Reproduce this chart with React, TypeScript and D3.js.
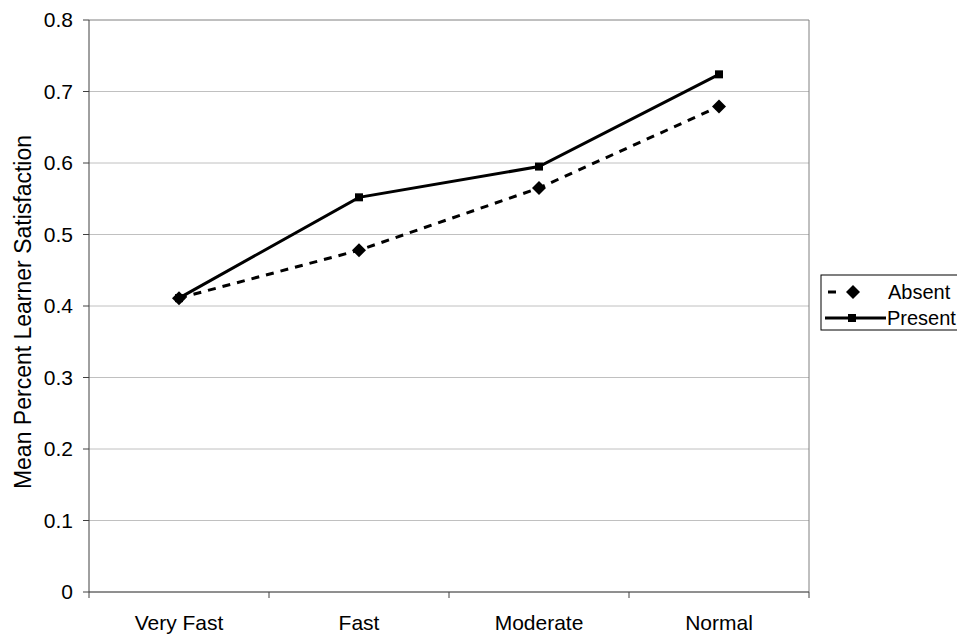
import React from "react";
import * as d3 from "d3";

const categories = ["Very Fast", "Fast", "Moderate", "Normal"];
const absentValues = [0.411, 0.478, 0.565, 0.679];
const presentValues = [0.411, 0.552, 0.595, 0.724];
const yTicks = [0, 0.1, 0.2, 0.3, 0.4, 0.5, 0.6, 0.7, 0.8];

export default function App() {
  const W = 957, H = 635;
  const left = 89, right = 809, top = 20, bottom = 592;
  const x = d3.scaleBand().domain(categories).range([left, right]);
  const y = d3.scaleLinear().domain([0, 0.8]).range([bottom, top]);
  const cx = (c: string) => (x(c) as number) + x.bandwidth() / 2;
  const line = d3.line<number>().x((_, i) => cx(categories[i])).y((v) => y(v));
  const font = "Liberation Sans, Arial, sans-serif";
  const diamond = (px: number, py: number, s: number) =>
    `M${px},${py - s}L${px + s},${py}L${px},${py + s}L${px - s},${py}Z`;
  const bandEdges = categories.map((c) => x(c) as number).concat([right]);
  return (
    <svg width={W} height={H} style={{ position: "absolute", left: 0, top: 0 }}>
      <rect width={W} height={H} fill="#fff" />
      {yTicks.map((t) => (
        <line key={t} x1={left} x2={right} y1={y(t)} y2={y(t)} stroke={t === 0.8 ? "#808080" : "#c0c0c0"} strokeWidth={1} />
      ))}
      <line x1={right} x2={right} y1={top} y2={bottom} stroke="#808080" strokeWidth={1} />
      <line x1={left} x2={left} y1={top} y2={bottom} stroke="#404040" strokeWidth={1} />
      <line x1={left} x2={right} y1={bottom} y2={bottom} stroke="#404040" strokeWidth={1} />
      {yTicks.map((t) => (
        <g key={"t" + t}>
          <line x1={left - 6} x2={left} y1={y(t)} y2={y(t)} stroke="#404040" />
          <text x={73} y={y(t)} dy="0.35em" textAnchor="end" fontFamily={font} fontSize={21} fill="#000">
            {t === 0 ? "0" : t.toFixed(1)}
          </text>
        </g>
      ))}
      {bandEdges.map((e, i) => (
        <line key={"b" + i} x1={e} x2={e} y1={bottom} y2={bottom + 6} stroke="#404040" />
      ))}
      {categories.map((c) => (
        <text key={c} x={cx(c)} y={630} textAnchor="middle" fontFamily={font} fontSize={21} fill="#000">
          {c}
        </text>
      ))}
      <text transform={`translate(31,312) rotate(-90)`} textAnchor="middle" fontFamily={font} fontSize={23} fill="#000">
        Mean Percent Learner Satisfaction
      </text>
      <path d={line(absentValues) as string} fill="none" stroke="#000" strokeWidth={3} strokeDasharray="8,7" />
      <path d={line(presentValues) as string} fill="none" stroke="#000" strokeWidth={3} />
      {absentValues.map((v, i) => (
        <path key={"a" + i} d={diamond(cx(categories[i]), y(v), 7)} fill="#000" />
      ))}
      {presentValues.map((v, i) => (
        <rect key={"p" + i} x={cx(categories[i]) - 4} y={y(v) - 4} width={8} height={8} fill="#000" />
      ))}
      <rect x={821} y={275} width={140} height={55} fill="#fff" stroke="#000" strokeWidth={1} />
      <line x1={828} x2={836} y1={292} y2={292} stroke="#000" strokeWidth={3} />
      <path d={diamond(853, 292, 7)} fill="#000" />
      <text x={888} y={292} dy="0.35em" fontFamily={font} fontSize={20} fill="#000">Absent</text>
      <line x1={825} x2={886} y1={318} y2={318} stroke="#000" strokeWidth={3} />
      <rect x={848} y={314} width={8} height={8} fill="#000" />
      <text x={887} y={318} dy="0.35em" fontFamily={font} fontSize={20} fill="#000">Present</text>
    </svg>
  );
}
